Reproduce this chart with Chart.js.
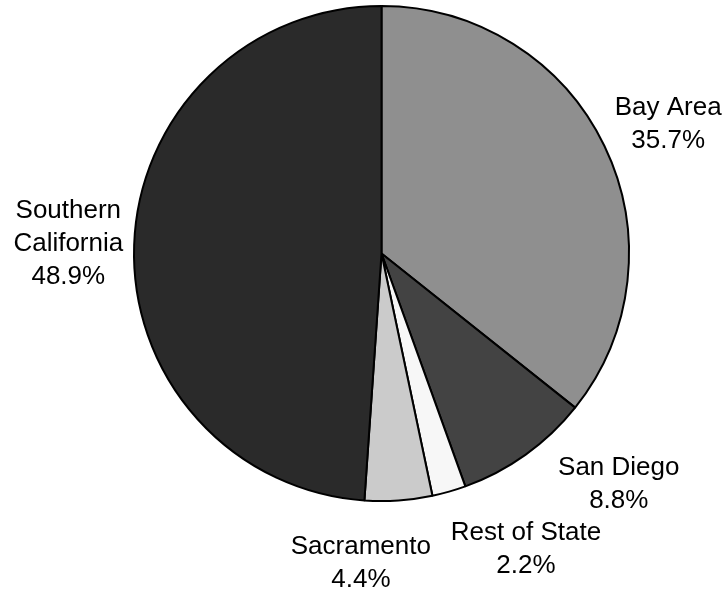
<!DOCTYPE html>
<html>
<head>
<meta charset="utf-8">
<script src="https://cdn.jsdelivr.net/npm/chart.js@4"></script>
<style>
  html, body { margin: 0; padding: 0; background: #fff; }
  #wrap { width: 726px; height: 592px; position: relative; }
</style>
</head>
<body>
<div id="wrap"><canvas id="pie"></canvas></div>
<script>
// regions, clockwise from 12 o'clock
const regions = ['Bay Area', 'San Diego', 'Rest of State', 'Sacramento', 'Southern California'];
const shares = [35.7, 8.8, 2.2, 4.4, 48.9];
const shades = ['#8f8f8f', '#434343', '#f7f7f7', '#cbcbcb', '#2a2a2a'];

// label text split over lines
function labelLines(i) {
    const name = regions[i] == 'Southern California' ? ['Southern', 'California'] : [regions[i]];
    return name.concat([shares[i].toFixed(1) + '%']);
}

// labels sit outside the pie, a few are nudged apart by hand
const nudge = [[8, 5], [57, -21], [60, -2], [-42, 1], [-4, 1]];

const outsideLabels = {
    id: 'outsideLabels',
    afterDraw(chart) {
        const ctx = chart.ctx;
        const arcs = chart.getDatasetMeta(0).data;
        ctx.save();
        ctx.font = '26px "Liberation Sans", Arial, sans-serif';
        ctx.fillStyle = '#000';
        ctx.textAlign = 'center';
        ctx.textBaseline = 'middle';
        const lineH = 33;
        arcs.forEach((arc, i) => {
            const mid = (arc.startAngle + arc.endAngle) / 2;
            const d = arc.outerRadius * 1.25;
            const x = arc.x + Math.cos(mid) * d + nudge[i][0];
            const y = arc.y + Math.sin(mid) * d + nudge[i][1];
            const lines = labelLines(i);
            const top = y - (lines.length - 1) * lineH / 2;
            lines.forEach((t, k) => ctx.fillText(t, x, top + k * lineH));
        });
        ctx.restore();
    }
};

new Chart(document.getElementById('pie'), {
    type: 'pie',
    data: {
        labels: regions,
        datasets: [{
            data: shares,
            backgroundColor: shades,
            borderColor: '#000',
            borderWidth: 2
        }]
    },
    options: {
        responsive: true,
        maintainAspectRatio: false,
        animation: false,
        layout: { padding: { left: 133, right: 96, top: 5, bottom: 90 } },
        plugins: {
            legend: { display: false },
            tooltip: { enabled: false }
        }
    },
    plugins: [outsideLabels]
});
</script>
</body>
</html>
